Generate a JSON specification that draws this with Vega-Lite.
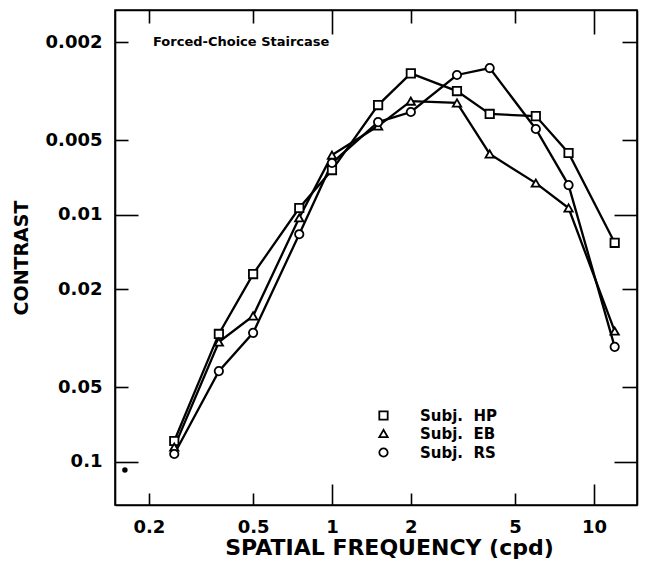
{
  "$schema": "https://vega.github.io/schema/vega-lite/v6.json",
  "autosize": {"type": "none"},
  "padding": {"left": 115, "top": 10, "right": 8, "bottom": 59},
  "width": 522,
  "height": 495,
  "background": "white",
  "title": {"text": "Forced-Choice Staircase", "orient": "top", "anchor": "start", "frame": "group", "offset": 0, "dx": 38, "dy": 49.5, "baseline": "alphabetic", "font": "DejaVu Sans", "fontSize": 13, "fontWeight": "bold", "color": "black"},
  "config": {
    "font": "DejaVu Sans",
    "view": {"stroke": "black", "strokeWidth": 1.6},
    "axis": {"grid": false, "domainColor": "black", "domainWidth": 1.6, "tickColor": "black", "tickWidth": 1.6, "labelColor": "black", "titleColor": "black", "labelFont": "DejaVu Sans", "labelFontWeight": "bold", "labelFontSize": 18, "titleFont": "DejaVu Sans", "titleFontWeight": "bold"}
  },
  "datasets": {
    "csf": [
      {"freq": 0.25, "contrast": 0.0825, "subject": "HP"},
      {"freq": 0.37, "contrast": 0.0304, "subject": "HP"},
      {"freq": 0.5, "contrast": 0.0174, "subject": "HP"},
      {"freq": 0.75, "contrast": 0.0094, "subject": "HP"},
      {"freq": 1, "contrast": 0.0066, "subject": "HP"},
      {"freq": 1.5, "contrast": 0.0036, "subject": "HP"},
      {"freq": 2, "contrast": 0.00268, "subject": "HP"},
      {"freq": 3, "contrast": 0.00316, "subject": "HP"},
      {"freq": 4, "contrast": 0.00391, "subject": "HP"},
      {"freq": 6, "contrast": 0.00399, "subject": "HP"},
      {"freq": 8, "contrast": 0.00563, "subject": "HP"},
      {"freq": 12, "contrast": 0.013, "subject": "HP"},
      {"freq": 0.25, "contrast": 0.0873, "subject": "EB"},
      {"freq": 0.37, "contrast": 0.0328, "subject": "EB"},
      {"freq": 0.5, "contrast": 0.0257, "subject": "EB"},
      {"freq": 0.75, "contrast": 0.0103, "subject": "EB"},
      {"freq": 1, "contrast": 0.00574, "subject": "EB"},
      {"freq": 1.5, "contrast": 0.00438, "subject": "EB"},
      {"freq": 2, "contrast": 0.00347, "subject": "EB"},
      {"freq": 3, "contrast": 0.00353, "subject": "EB"},
      {"freq": 4, "contrast": 0.00568, "subject": "EB"},
      {"freq": 6, "contrast": 0.00745, "subject": "EB"},
      {"freq": 8, "contrast": 0.0094, "subject": "EB"},
      {"freq": 12, "contrast": 0.0296, "subject": "EB"},
      {"freq": 0.25, "contrast": 0.0931, "subject": "RS"},
      {"freq": 0.37, "contrast": 0.043, "subject": "RS"},
      {"freq": 0.5, "contrast": 0.0301, "subject": "RS"},
      {"freq": 0.75, "contrast": 0.012, "subject": "RS"},
      {"freq": 1, "contrast": 0.00618, "subject": "RS"},
      {"freq": 1.5, "contrast": 0.00422, "subject": "RS"},
      {"freq": 2, "contrast": 0.00384, "subject": "RS"},
      {"freq": 3, "contrast": 0.00272, "subject": "RS"},
      {"freq": 4, "contrast": 0.00255, "subject": "RS"},
      {"freq": 6, "contrast": 0.0045, "subject": "RS"},
      {"freq": 8, "contrast": 0.00759, "subject": "RS"},
      {"freq": 12, "contrast": 0.0343, "subject": "RS"}
    ],
    "dot": [{"freq": 0.162, "contrast": 0.108}]
  },
  "layer": [
    {
      "data": {"name": "csf"},
      "mark": {"type": "line", "color": "black", "strokeWidth": 2.3},
      "encoding": {
        "x": {"field": "freq", "type": "quantitative",
          "scale": {"type": "log", "domain": [0.1485, 14.6], "nice": false, "zero": false},
          "axis": {"orient": "bottom", "values": [0.2, 0.5, 1, 2, 5, 10], "labelExpr": "format(datum.value, '~g')",
            "tickSize": {"condition": {"test": "datum.value == 1 || datum.value == 10", "value": -21}, "value": -12},
            "labelPadding": {"condition": {"test": "datum.value == 1 || datum.value == 10", "value": 34}, "value": 25},
            "title": "SPATIAL FREQUENCY (cpd)", "titleFontSize": 22, "titleX": 274, "titleY": 49, "titleBaseline": "alphabetic"}},
        "y": {"field": "contrast", "type": "quantitative",
          "scale": {"type": "log", "domain": [0.001484, 0.1498], "nice": false, "zero": false, "reverse": true},
          "axis": {"orient": "left", "values": [0.002, 0.005, 0.01, 0.02, 0.05, 0.1], "labelExpr": "format(datum.value, '~g')",
            "tickSize": {"condition": {"test": "datum.value == 0.01 || datum.value == 0.1", "value": -23}, "value": -13},
            "labelPadding": {"condition": {"test": "datum.value == 0.01 || datum.value == 0.1", "value": 36}, "value": 26},
            "title": "CONTRAST", "titleFontSize": 19, "titleX": -88, "titleBaseline": "alphabetic"}},
        "detail": {"field": "subject", "type": "nominal"}
      }
    },
    {
      "data": {"name": "csf"},
      "mark": {"type": "point", "shape": "circle", "filled": false, "color": "black", "fill": "white", "fillOpacity": 1, "strokeWidth": 1.8, "opacity": 1, "size": 70},
      "encoding": {
        "x": {"field": "freq", "type": "quantitative",
          "scale": {"type": "log", "domain": [0.1485, 14.6], "nice": false, "zero": false},
          "axis": {"orient": "top", "values": [0.2, 0.5, 1, 2, 5, 10], "labels": false, "title": null,
            "tickSize": {"condition": {"test": "datum.value == 1 || datum.value == 10", "value": -24}, "value": -13}}},
        "y": {"field": "contrast", "type": "quantitative",
          "scale": {"type": "log", "domain": [0.001484, 0.1498], "nice": false, "zero": false, "reverse": true},
          "axis": {"orient": "right", "values": [0.002, 0.005, 0.01, 0.02, 0.05, 0.1], "labels": false, "title": null,
            "tickSize": {"condition": {"test": "datum.value == 0.01 || datum.value == 0.1", "value": -23}, "value": -15}}},
        "shape": {"field": "subject", "type": "nominal",
          "scale": {"domain": ["HP", "EB", "RS"], "range": ["square", "triangle-up", "circle"]},
          "legend": {"orient": "none", "legendX": 261, "legendY": 398, "title": null, "symbolSize": 70, "symbolStrokeWidth": 1.8,
            "labelFont": "DejaVu Sans", "labelFontSize": 15, "labelFontWeight": "bold", "labelColor": "black", "labelOffset": 29, "rowPadding": 2,
            "labelExpr": "'Subj.\u00a0 ' + datum.label"}}
      }
    },
    {
      "data": {"name": "dot"},
      "mark": {"type": "point", "filled": true, "color": "black", "opacity": 1, "size": 30},
      "encoding": {
        "x": {"field": "freq", "type": "quantitative", "scale": {"type": "log", "domain": [0.1485, 14.6], "nice": false, "zero": false}, "axis": null},
        "y": {"field": "contrast", "type": "quantitative", "scale": {"type": "log", "domain": [0.001484, 0.1498], "nice": false, "zero": false, "reverse": true}, "axis": null}
      }
    }
  ],
  "resolve": {"axis": {"x": "independent", "y": "independent"}}
}
